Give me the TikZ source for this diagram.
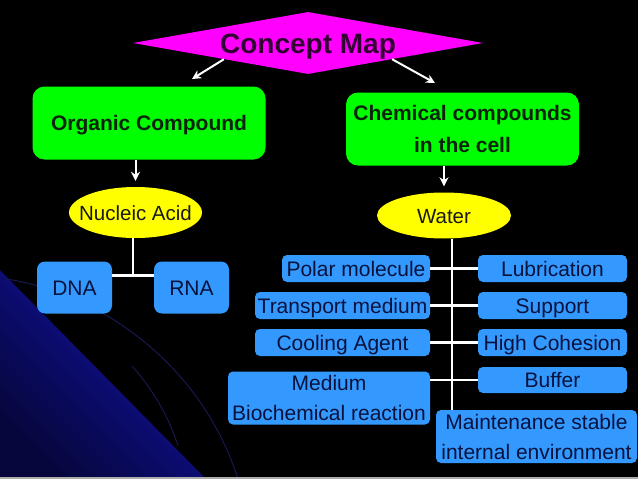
\documentclass[tikz,border=0pt]{standalone}
\usepackage{fontspec}
\setmainfont{Liberation Sans}
\usetikzlibrary{shapes.geometric, arrows.meta, calc}
\definecolor{mapmagenta}{RGB}{255,0,255}
\definecolor{mapgreen}{RGB}{0,255,0}
\definecolor{mapyellow}{RGB}{255,255,0}
\definecolor{itemblue}{RGB}{51,153,255}
\definecolor{itemtext}{RGB}{8,18,60}
\definecolor{greentext}{RGB}{10,35,10}
\definecolor{slideblue}{RGB}{18,18,170}
\definecolor{slidedark}{RGB}{6,6,60}
\definecolor{arcblue}{RGB}{24,24,80}

\begin{document}
\begin{tikzpicture}[x=1pt, y=-1pt,
    mapdiamond/.style={diamond, fill=mapmagenta, aspect=5.65, inner sep=0pt, minimum width=350pt, minimum height=62pt, text=black!80!mapmagenta, font=\fontsize{28}{32}\selectfont\bfseries, text height=20pt, text depth=0pt},
    topic/.style={rectangle, fill=mapgreen, rounded corners=12pt, inner sep=0pt, minimum width=233pt, minimum height=73pt, align=center, text=greentext, font=\fontsize{21}{32}\selectfont\bfseries},
    oval/.style={ellipse, fill=mapyellow, inner xsep=-10pt, inner ysep=0pt, minimum width=133pt, text=black!90, font=\fontsize{20.5}{24}\selectfont, text height=15pt, text depth=0pt},
    item/.style={rectangle, fill=itemblue, rounded corners=5pt, inner sep=0pt, minimum height=27pt, align=center, text=itemtext, font=\fontsize{21}{30}\selectfont},
    oneline/.style={text height=15pt, text depth=0pt},
    arrow/.style={-{Stealth[length=9pt, width=9pt]}, white, line width=2pt},
    link/.style={white, line width=2.5pt}]

    \useasboundingbox (0,0) rectangle (638,479);

    % Slide background
    \fill[black] (0,0) rectangle (638,479);
    \shade[top color=slideblue, bottom color=slidedark, shading angle=-45] (0,270) -- (206,479) -- (0,479) -- cycle;
    \draw[arcblue, line width=1pt] (6,279) .. controls (95,292) and (200,360) .. (238,479);
    \draw[arcblue, line width=1pt] (132,366) .. controls (155,392) and (170,420) .. (178,446);
    \fill[gray!65] (0,477) rectangle (638,479);

    % Nodes
    \node[mapdiamond] (title) at (308,43) {Concept Map};
    \node[topic, text height=15pt, text depth=0pt] (organic) at (149,123) {Organic Compound};
    \node[topic] (chemical) at (462.5,129) {Chemical compounds\\in the cell};
    \node[oval, minimum height=51pt] (nucleic) at (135.5,212.5) {Nucleic Acid};
    \node[oval, minimum height=46pt, minimum width=134pt] (water) at (444,215.5) {Water};

    \node[item, oneline, minimum width=75pt, minimum height=52pt, rounded corners=8pt] (dna) at (74.5,287.5) {DNA};
    \node[item, oneline, minimum width=75pt, minimum height=52pt, rounded corners=8pt] (rna) at (191.5,287.5) {RNA};

    \node[item, oneline, minimum width=148pt] (polar) at (356,268.5) {Polar molecule};
    \node[item, oneline, minimum width=175pt] (transport) at (342.5,305.5) {Transport medium};
    \node[item, oneline, minimum width=175pt] (cooling) at (342.5,342.5) {Cooling Agent};
    \node[item, minimum width=202pt, minimum height=53pt] (medium) at (329,398) {Medium\\Biochemical reaction};

    \node[item, oneline, minimum width=149pt] (lubric) at (552.5,268.5) {Lubrication};
    \node[item, oneline, minimum width=149pt] (support) at (552.5,305.5) {Support};
    \node[item, oneline, minimum width=149pt] (cohesion) at (552.5,342.5) {High Cohesion};
    \node[item, oneline, minimum width=149pt, minimum height=26pt] (buffer) at (552.5,380) {Buffer};
    \node[item, minimum width=201pt, minimum height=53pt] (maint) at (536.5,436.5) {Maintenance stable\\internal environment};

    % Arrows
    \coordinate (orgtip) at (192,79);
    \coordinate (chemtip) at (435,83);
    \draw[arrow] ($(title.west)!.52!(title.south)$) -- (orgtip);
    \draw[arrow] ($(title.east)!.52!(title.south)$) -- (chemtip);
    \draw[arrow, shorten >=6pt] (organic.south -| nucleic) -- (nucleic.north);
    \draw[arrow, shorten >=6pt] (chemical.south -| water) -- (water.north);

    % Branches
    \coordinate (nasplit) at ($(dna.north east)!.5!(rna.north west) + (0,14)$);
    \draw[link] (nucleic.south -| nasplit) -- (nasplit);
    \draw[link] (dna.east |- nasplit) -- (rna.west |- nasplit);

    \coordinate (trunk) at ($(water.south) + (8,0)$);
    \draw[link] (trunk) -- (trunk |- maint.north);
    \draw[link] (polar) -- (lubric);
    \draw[link] (transport) -- (support);
    \draw[link] (cooling) -- (cohesion);
    \draw[link] (buffer.west -| medium.east) -- (buffer);

\end{tikzpicture}
\end{document}
